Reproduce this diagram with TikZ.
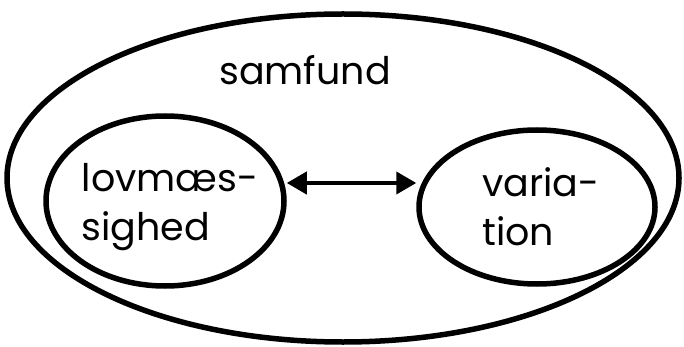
\documentclass[tikz,border=0pt]{standalone}
\usepackage{fontspec}
\setmainfont{Poppins}
\usetikzlibrary{shapes.geometric,arrows.meta}
\tikzset{
  ring/.style={draw, ellipse, line width=5.5pt, inner sep=0pt},
  word/.style={font=\fontsize{38}{49}\selectfont, align=left, inner sep=0pt},
}
\begin{document}
\begin{tikzpicture}[x=1pt, y=-1pt, line join=round, >={Triangle[length=20pt,width=22pt]}]
  \useasboundingbox (0,0) rectangle (684,347);
  \node[ring, minimum width=672pt, minimum height=328pt] (samf) at (343,178) {};
  \node[ring, minimum width=238pt, minimum height=170pt] (lovring) at (165,201) {};
  \node[ring, minimum width=236pt, minimum height=154pt] (varring) at (537,207) {};
  \node[word] (samftxt) at (305,70) {samfund};
  \node[word] (lov) at (170,207) {lovmæs-\\sighed};
  \node[word] (var) at (541,207) {varia-\\tion};
  \draw[<->, line width=4pt] ([yshift=18pt]lovring.east) -- ([yshift=24pt]varring.west);
\end{tikzpicture}
\end{document}
